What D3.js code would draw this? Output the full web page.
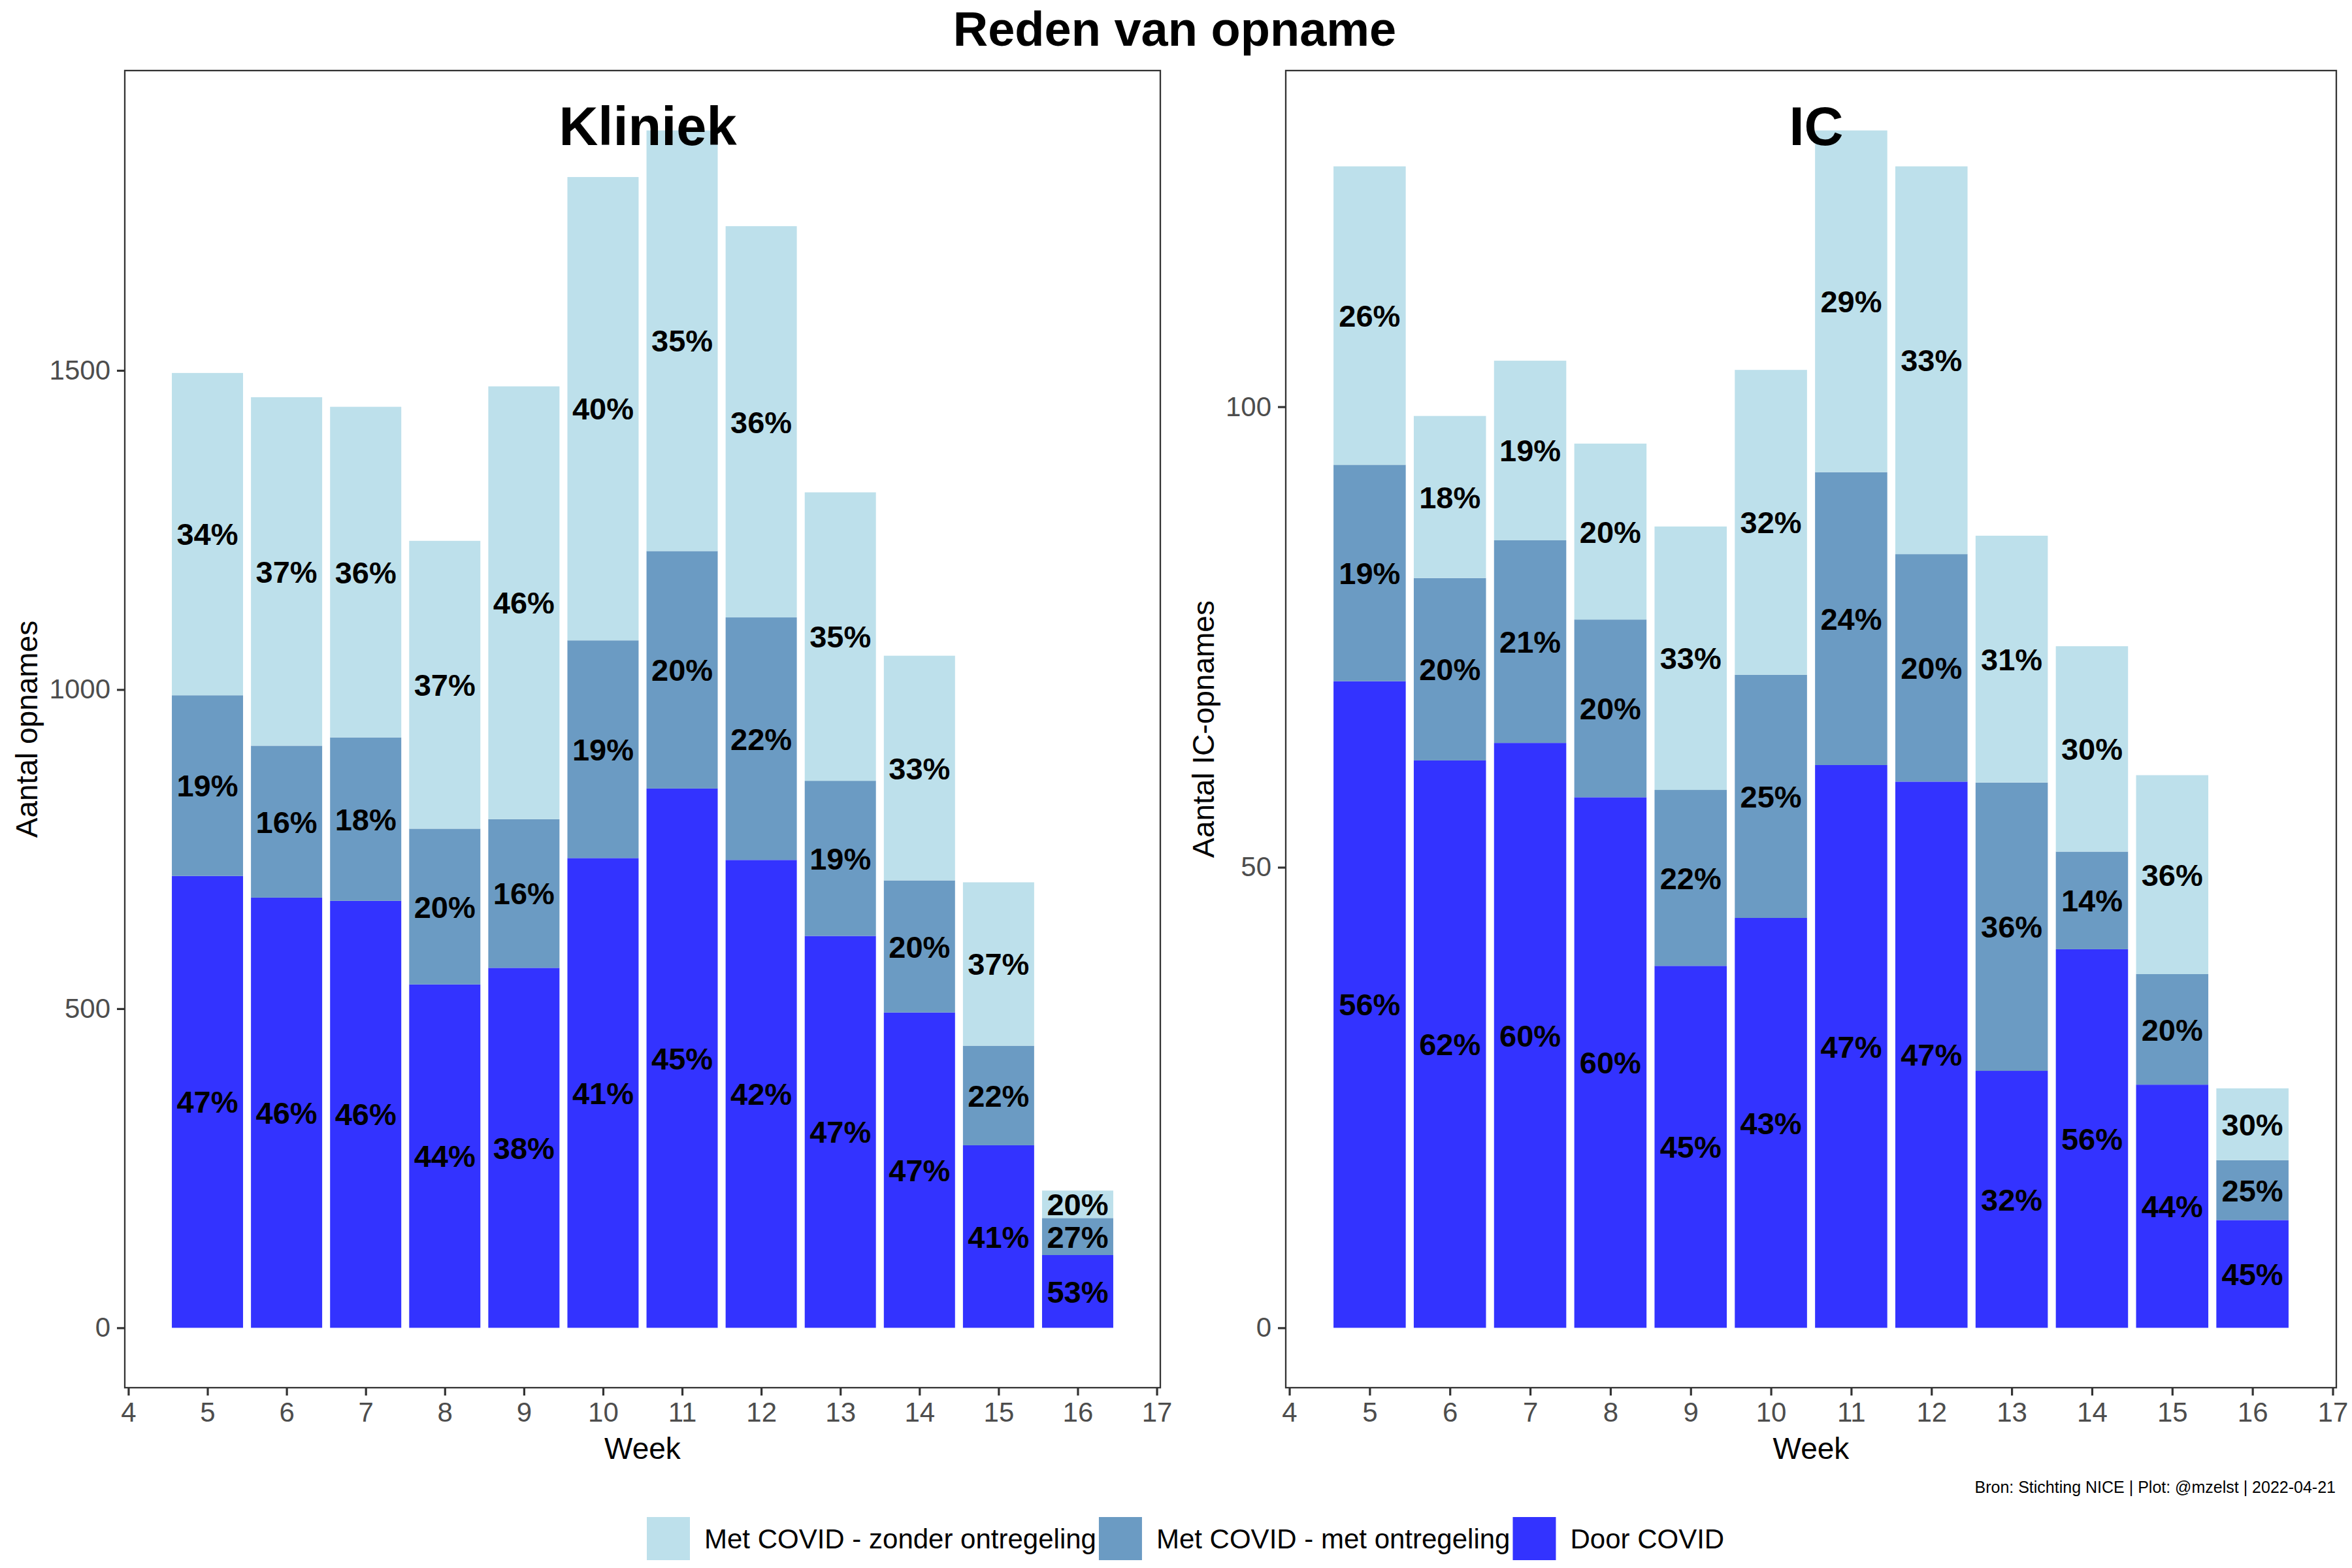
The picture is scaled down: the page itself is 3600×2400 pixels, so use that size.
<!DOCTYPE html>
<html>
<head>
<meta charset="utf-8">
<script src="https://cdn.jsdelivr.net/npm/d3@7"></script>
<style>
  body { margin: 0; background: #fff; }
  text { font-family: "Liberation Sans", Arial, sans-serif; }
</style>
</head>
<body>
<svg id="chart"></svg>
<script>
// weeks on the x axis
var weeks = [5, 6, 7, 8, 9, 10, 11, 12, 13, 14, 15, 16]
var weekTicks = [4, 5, 6, 7, 8, 9, 10, 11, 12, 13, 14, 15, 16, 17]

// Kliniek (clinic admissions)
var klDoor   = [708, 674, 669, 538, 564, 736, 845, 733, 614, 494, 286, 114]
var klMet    = [283, 238, 256, 244, 233, 341, 372, 380, 243, 207, 156, 58]
var klZonder = [505, 546, 518, 451, 678, 726, 659, 613, 452, 352, 256, 43]
var klTicks  = [0, 500, 1000, 1500]

// IC admissions
var icDoor   = [70.2, 61.6, 63.5, 57.6, 39.3, 44.5, 61.1, 59.3, 27.9, 41.1, 26.4, 11.7]
var icMet    = [23.5, 19.8, 22.0, 19.3, 19.1, 26.4, 31.8, 24.7, 31.3, 10.6, 12.0, 6.5]
var icZonder = [32.4, 17.6, 19.5, 19.1, 28.6, 33.1, 37.1, 42.1, 26.8, 22.3, 21.6, 7.8]
var icTicks  = [0, 50, 100]

var legendLabels = ["Met COVID - zonder ontregeling", "Met COVID - met ontregeling", "Door COVID"]
var keys = ["door", "met", "zonder"]
var fills = {zonder: "#BDE0EB", met: "#6B9BC3", door: "#3333FF"}

var W = 3600, H = 2400
var svg = d3.select("#chart").attr("width", W).attr("height", H)
svg.append("rect").attr("width", W).attr("height", H).attr("fill", "#fff")

svg.append("text")
    .attr("x", 1798).attr("y", 70)
    .attr("text-anchor", "middle")
    .style("font-size", "74px").style("font-weight", "bold")
    .text("Reden van opname")

var makeRows = function(door, met, zonder)
{
    return weeks.map(function(w, i) {
        return {week: w, door: door[i], met: met[i], zonder: zonder[i]}
    })
}

var drawPanel = function(box, rows, ticks, title, ylabel, ytitleX)
{
    var g = svg.append("g")
    var maxTot = d3.max(rows, function(d){ return d.door + d.met + d.zonder })

    var x = d3.scaleLinear()
        .domain([4.55 - 0.05 * 11.9, 16.45 + 0.05 * 11.9])
        .range([box.left, box.right])
    var y = d3.scaleLinear()
        .domain([-0.05 * maxTot, 1.05 * maxTot])
        .range([box.bottom, box.top])

    var series = d3.stack().keys(keys)(rows)
    var bw = x(0.9) - x(0)

    series.forEach(function(s) {
        g.append("g").selectAll("rect")
            .data(s)
            .enter()
            .append("rect")
            .attr("x", function(d){ return x(d.data.week) - bw / 2 })
            .attr("width", bw)
            .attr("y", function(d){ return y(d[1]) })
            .attr("height", function(d){ return y(d[0]) - y(d[1]) })
            .attr("fill", fills[s.key])
    })

    series.forEach(function(s) {
        g.append("g").selectAll("text")
            .data(s)
            .enter()
            .append("text")
            .attr("x", function(d){ return x(d.data.week) })
            .attr("y", function(d){ return y((d[0] + d[1]) / 2) })
            .attr("dy", "0.36em")
            .attr("text-anchor", "middle")
            .style("font-size", "47px").style("font-weight", "bold")
            .text(function(d){
                var tot = d.data.door + d.data.met + d.data.zonder
                return Math.round((d[1] - d[0]) / tot * 100) + "%"
            })
    })

    // panel title
    g.append("text")
        .attr("x", x(10.5) + 8).attr("y", box.top + 114)
        .attr("text-anchor", "middle")
        .style("font-size", "83px").style("font-weight", "bold")
        .text(title)

    // border
    g.append("rect")
        .attr("x", box.left).attr("y", box.top)
        .attr("width", box.right - box.left).attr("height", box.bottom - box.top)
        .attr("fill", "none").attr("stroke", "#333333").attr("stroke-width", 2.3)

    var xAxis = g.append("g")
        .attr("transform", "translate(0," + box.bottom + ")")
        .call(d3.axisBottom(x).tickValues(weekTicks).tickFormat(d3.format("d")).tickSize(12).tickPadding(10))
    var yAxis = g.append("g")
        .attr("transform", "translate(" + box.left + ",0)")
        .call(d3.axisLeft(y).tickValues(ticks).tickFormat(d3.format("d")).tickSize(12).tickPadding(10))
    ;[xAxis, yAxis].forEach(function(a) {
        a.select(".domain").remove()
        a.selectAll("line").attr("stroke", "#333333").attr("stroke-width", 3.2)
        a.selectAll("text").attr("fill", "#4D4D4D").style("font-size", "42px")
            .style("font-family", "'Liberation Sans', Arial, sans-serif")
    })

    g.append("text")
        .attr("x", (box.left + box.right) / 2).attr("y", 2233)
        .attr("text-anchor", "middle")
        .style("font-size", "46px")
        .text("Week")

    g.append("text")
        .attr("transform", "translate(" + ytitleX + "," + (box.top + box.bottom) / 2 + ") rotate(-90)")
        .attr("text-anchor", "middle")
        .style("font-size", "46px")
        .text(ylabel)
}

drawPanel({left: 191, right: 1776, top: 108, bottom: 2124},
    makeRows(klDoor, klMet, klZonder), klTicks, "Kliniek", "Aantal opnames", 57)
drawPanel({left: 1968, right: 3576, top: 108, bottom: 2124},
    makeRows(icDoor, icMet, icZonder), icTicks, "IC", "Aantal IC-opnames", 1858)

// caption
svg.append("text")
    .attr("x", 3575).attr("y", 2285)
    .attr("text-anchor", "end")
    .style("font-size", "25px")
    .text("Bron: Stichting NICE | Plot: @mzelst | 2022-04-21")

// legend
var lx = 990
var legendFills = [fills.zonder, fills.met, fills.door]
legendLabels.forEach(function(lab, i) {
    svg.append("rect")
        .attr("x", lx).attr("y", 2322)
        .attr("width", 66).attr("height", 66)
        .attr("fill", legendFills[i])
    var t = svg.append("text")
        .attr("x", lx + 88).attr("y", 2370)
        .style("font-size", "42px")
        .text(lab)
    lx = lx + 88 + t.node().getComputedTextLength() + 4
})
</script>
</body>
</html>
